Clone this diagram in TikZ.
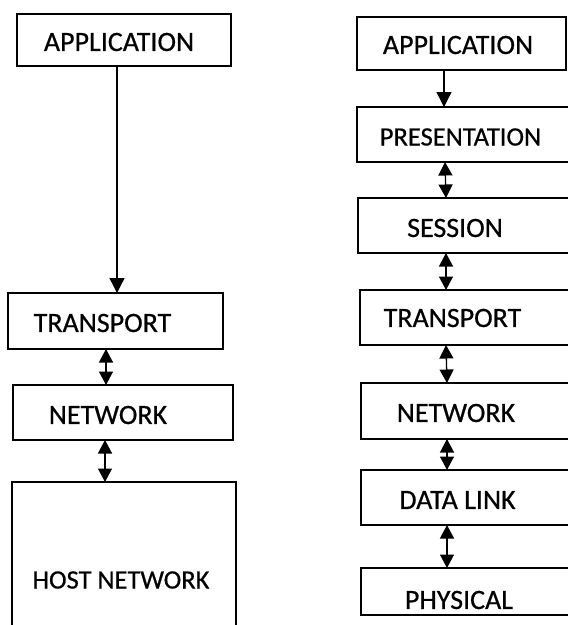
\documentclass[tikz,border=0pt]{standalone}
\usepackage{fontspec}
\setmainfont{Carlito}
\newfontfamily\layerfont{Carlito}[FakeBold=0.6]
\usetikzlibrary{arrows.meta}

\tikzset{
  layer/.style={draw, line width=1.3pt, rectangle, inner sep=0pt, outer sep=0pt,
                minimum width=#1},
  lbl/.style={inner sep=0pt, font=\layerfont\fontsize{28}{32}\selectfont},
  small/.style={font=\layerfont\fontsize{26.5}{30}\selectfont},
  head/.style={Triangle[width=14pt,length=14pt]},
  link/.style={line width=1.3pt, -{Triangle[width=15pt,length=15pt]}},
  dlink/.style={line width=1.3pt, {Triangle[width=14pt,length=13.5pt]}-{Triangle[width=14pt,length=13.5pt]}},
}

\begin{document}
\begin{tikzpicture}[x=1pt,y=-1pt]
  \useasboundingbox (0,0) rectangle (568,625);

  % ---- left stack (four layers) ----
  \node[layer=214pt, minimum height=52pt]  (lapp)  at (124,40)     {};
  \node[layer=215pt, minimum height=56pt]  (ltr)   at (115.5,321)  {};
  \node[layer=220pt, minimum height=55pt]  (lnet)  at (123,412.5)  {};
  \node[layer=224pt, minimum height=170pt] (lhost) at (124,567)    {};

  \node[lbl] (tlapp)  at (119,42)    {APPLICATION};
  \node[lbl] (tltr)   at (102.5,323) {TRANSPORT};
  \node[lbl] (tlnet)  at (108,415)   {NETWORK};
  \node[lbl, small] (tlhost) at (121,580) {HOST NETWORK};

  \draw[link]  ([xshift=-7pt]lapp.south) -- ([xshift=1.5pt]ltr.north);
  \draw[dlink] ([xshift=-9.5pt]ltr.south) -- ([xshift=-17pt]lnet.north);
  \draw[dlink] ([xshift=-18pt]lnet.south) -- ([xshift=-19pt]lhost.north);

  % ---- right stack (seven layers) ----
  \node[layer=209pt, minimum height=53pt] (rapp)  at (461.5,43.5) {};
  \node[layer=223pt, minimum height=55pt] (rpres) at (468.5,134.5) {};
  \node[layer=222pt, minimum height=55pt] (rses)  at (469,225.5)   {};
  \node[layer=220pt, minimum height=55pt] (rtr)   at (470,317.5)   {};
  \node[layer=219pt, minimum height=56pt] (rnet)  at (470.5,411)   {};
  \node[layer=219pt, minimum height=55pt] (rdl)   at (470.5,497.5) {};
  \node[layer=219pt, minimum height=47pt] (rphy)  at (470.5,591.5) {};

  \node[lbl] (trapp)  at (458,45)    {APPLICATION};
  \node[lbl, small] (trpres) at (460.5,137) {PRESENTATION};
  \node[lbl] (trses)  at (455,228)   {SESSION};
  \node[lbl] (trtr)   at (452.5,318) {TRANSPORT};
  \node[lbl] (trnet)  at (456,413)   {NETWORK};
  \node[lbl] (trdl)   at (457.5,500) {DATA LINK};
  \node[lbl] (trphy)  at (459,600)   {PHYSICAL};

  \draw[link]  ([xshift=-17.5pt]rapp.south)  -- ([xshift=-24.5pt]rpres.north);
  \draw[dlink] ([xshift=-23.5pt]rpres.south) -- ([xshift=-23pt]rses.north);
  \draw[dlink] ([xshift=-23pt]rses.south)    -- ([xshift=-24pt]rtr.north);
  \draw[dlink] ([xshift=-24pt]rtr.south)     -- ([xshift=-23.5pt]rnet.north);
  \draw[dlink] ([xshift=-23.5pt]rnet.south)  -- ([xshift=-23.5pt]rdl.north);
  \draw[dlink] ([xshift=-23.5pt]rdl.south)   -- ([xshift=-23.5pt]rphy.north);
\end{tikzpicture}
\end{document}
